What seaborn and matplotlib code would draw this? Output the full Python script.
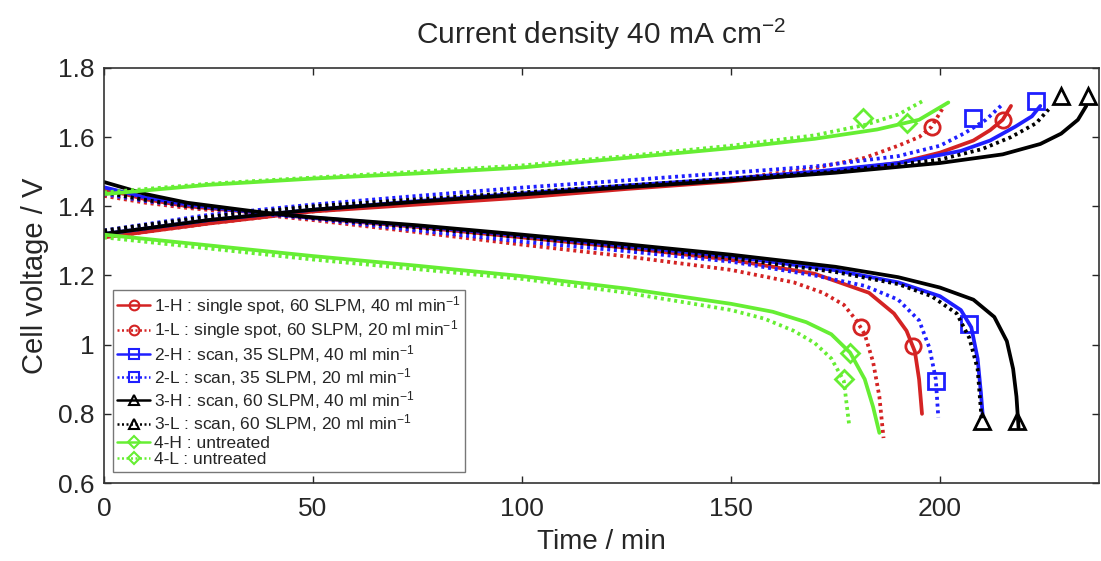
import numpy as np
import pandas as pd
import matplotlib
matplotlib.use("Agg")
import matplotlib.pyplot as plt
import seaborn as sns
from matplotlib.lines import Line2D

# ---- data (time in min, voltage in V) ----
series = ["1-H", "1-L", "2-H", "2-L", "3-H", "3-L", "4-H", "4-L"]
labels = [
    "1-H : single spot, 60 SLPM, 40 ml min$^{-1}$",
    "1-L : single spot, 60 SLPM, 20 ml min$^{-1}$",
    "2-H : scan, 35 SLPM, 40 ml min$^{-1}$",
    "2-L : scan, 35 SLPM, 20 ml min$^{-1}$",
    "3-H : scan, 60 SLPM, 40 ml min$^{-1}$",
    "3-L : scan, 60 SLPM, 20 ml min$^{-1}$",
    "4-H : untreated",
    "4-L : untreated",
]

# charge branch
charge_t = {
    "1-H": [0, 25, 50, 75, 100, 125, 150, 170, 190, 200, 208, 212, 215, 217],
    "1-L": [0, 25, 50, 75, 100, 125, 150, 170, 182, 190, 195, 198, 201],
    "2-H": [0, 25, 50, 75, 100, 125, 150, 170, 190, 205, 212, 218, 222, 224],
    "2-L": [0, 25, 50, 75, 100, 125, 150, 170, 190, 200, 206, 211, 215],
    "3-H": [0, 25, 50, 75, 100, 125, 150, 175, 200, 215, 224, 229, 233, 235],
    "3-L": [0, 25, 50, 75, 100, 125, 150, 175, 200, 210, 217, 223, 226],
    "4-H": [0, 25, 50, 75, 100, 125, 150, 170, 185, 195, 202],
    "4-L": [0, 25, 50, 75, 100, 125, 150, 170, 182, 190, 196],
}
charge_v = {
    "1-H": [1.31, 1.35, 1.385, 1.405, 1.425, 1.45, 1.472, 1.495, 1.525, 1.555, 1.59, 1.62, 1.65, 1.69],
    "1-L": [1.31, 1.35, 1.385, 1.41, 1.43, 1.455, 1.478, 1.51, 1.54, 1.575, 1.60, 1.63, 1.69],
    "2-H": [1.32, 1.36, 1.39, 1.415, 1.437, 1.46, 1.48, 1.50, 1.525, 1.56, 1.59, 1.63, 1.66, 1.69],
    "2-L": [1.33, 1.375, 1.405, 1.43, 1.454, 1.475, 1.497, 1.515, 1.545, 1.575, 1.612, 1.65, 1.695],
    "3-H": [1.32, 1.36, 1.39, 1.413, 1.434, 1.455, 1.475, 1.497, 1.525, 1.55, 1.58, 1.61, 1.65, 1.69],
    "3-L": [1.33, 1.37, 1.40, 1.42, 1.44, 1.46, 1.48, 1.50, 1.535, 1.565, 1.60, 1.64, 1.68],
    "4-H": [1.435, 1.462, 1.48, 1.495, 1.512, 1.54, 1.568, 1.595, 1.622, 1.65, 1.70],
    "4-L": [1.44, 1.465, 1.483, 1.50, 1.518, 1.545, 1.575, 1.605, 1.635, 1.665, 1.705],
}

# discharge branch
discharge_t = {
    "1-H": [0, 10, 20, 38, 50, 75, 100, 125, 150, 170, 183, 189, 192, 194, 195, 195.7],
    "1-L": [0, 10, 20, 38, 50, 75, 100, 125, 150, 165, 172, 177, 180, 182, 184, 185.5, 186.5],
    "2-H": [0, 10, 20, 38, 50, 75, 100, 125, 150, 175, 190, 200, 205, 207.5, 209, 209.8, 210.2],
    "2-L": [0, 10, 20, 38, 50, 75, 100, 125, 150, 170, 182, 190, 195, 197.5, 199, 199.6],
    "3-H": [0, 10, 20, 38, 50, 75, 100, 125, 150, 175, 190, 200, 208, 213, 216, 217.5, 218.3, 218.8],
    "3-L": [0, 10, 20, 38, 50, 75, 100, 125, 150, 175, 190, 198, 204, 207, 209, 210],
    "4-H": [0, 25, 50, 75, 100, 125, 150, 160, 168, 174, 178.5, 182, 184, 185.5],
    "4-L": [0, 25, 50, 75, 100, 125, 150, 158, 165, 170, 174, 177, 178.3],
}
discharge_v = {
    "1-H": [1.45, 1.42, 1.40, 1.38, 1.366, 1.34, 1.31, 1.28, 1.245, 1.205, 1.15, 1.09, 1.04, 0.98, 0.90, 0.80],
    "1-L": [1.43, 1.41, 1.395, 1.375, 1.36, 1.325, 1.289, 1.255, 1.216, 1.18, 1.15, 1.115, 1.07, 1.03, 0.95, 0.85, 0.73],
    "2-H": [1.455, 1.425, 1.405, 1.38, 1.367, 1.343, 1.315, 1.285, 1.255, 1.215, 1.18, 1.14, 1.10, 1.05, 0.96, 0.86, 0.80],
    "2-L": [1.435, 1.415, 1.40, 1.378, 1.364, 1.33, 1.298, 1.27, 1.24, 1.20, 1.17, 1.13, 1.07, 0.99, 0.90, 0.79],
    "3-H": [1.47, 1.435, 1.41, 1.382, 1.368, 1.345, 1.318, 1.29, 1.26, 1.225, 1.195, 1.165, 1.13, 1.08, 1.01, 0.93, 0.85, 0.76],
    "3-L": [1.44, 1.418, 1.40, 1.38, 1.366, 1.338, 1.31, 1.28, 1.25, 1.21, 1.175, 1.14, 1.09, 1.02, 0.93, 0.78],
    "4-H": [1.318, 1.287, 1.256, 1.228, 1.198, 1.162, 1.118, 1.095, 1.065, 1.03, 0.977, 0.90, 0.82, 0.745],
    "4-L": [1.31, 1.278, 1.246, 1.218, 1.19, 1.15, 1.10, 1.075, 1.04, 1.005, 0.96, 0.895, 0.765],
}

# single marker per branch (where the reference shows it)
marker_charge_t = [215, 198, 223, 208, 235.5, 229, 192, 181.5]
marker_charge_v = [1.65, 1.63, 1.705, 1.655, 1.72, 1.72, 1.64, 1.655]
marker_discharge_t = [193.5, 181, 207, 199, 218.5, 210, 178.5, 177]
marker_discharge_v = [0.997, 1.05, 1.06, 0.896, 0.78, 0.78, 0.977, 0.90]

colors = ["#d42323", "#d42323", "#1f1fff", "#1f1fff", "#000000", "#000000", "#66ee33", "#66ee33"]
markers = ["o", "o", "s", "s", "^", "^", "D", "D"]
dotted = (0, (0.8, 1.0))
styles = ["-", dotted, "-", dotted, "-", dotted, "-", dotted]

rows = []
for s in series:
    for t, v in zip(charge_t[s], charge_v[s]):
        rows.append((s, "charge", t, v))
    for t, v in zip(discharge_t[s], discharge_v[s]):
        rows.append((s, "discharge", t, v))
df = pd.DataFrame(rows, columns=["series", "branch", "time", "voltage"])

sns.set_style("ticks")
plt.rcParams["font.family"] = ["Liberation Sans", "DejaVu Sans"]
plt.rcParams["mathtext.default"] = "regular"

fig = plt.figure(figsize=(11.01, 5.61), dpi=100)
ax = fig.add_axes([0.0945, 0.139, 0.9035, 0.74])

for i, s in enumerate(series):
    for branch in ["charge", "discharge"]:
        sub = df[(df.series == s) & (df.branch == branch)]
        sns.lineplot(data=sub, x="time", y="voltage", ax=ax, color=colors[i],
                     linestyle=styles[i], linewidth=2.7, sort=False,
                     estimator=None, legend=False)
    mk = dict(marker=markers[i], markersize=11 if markers[i] != "D" else 9.5,
              markerfacecolor="none", markeredgecolor=colors[i],
              markeredgewidth=2, linestyle="none")
    ax.plot([marker_charge_t[i], marker_discharge_t[i]],
            [marker_charge_v[i], marker_discharge_v[i]], **mk)

ax.set_xlim(0, 238)
ax.set_ylim(0.6, 1.8)
ax.set_xticks([0, 50, 100, 150, 200])
ax.set_yticks([0.6, 0.8, 1.0, 1.2, 1.4, 1.6, 1.8])
ax.set_yticklabels(["0.6", "0.8", "1", "1.2", "1.4", "1.6", "1.8"])
ax.tick_params(direction="in", top=True, right=True, length=5, width=1,
               labelsize=19)
ax.tick_params(axis="x", pad=10)
ax.tick_params(axis="y", pad=7)
for sp in ax.spines.values():
    sp.set_linewidth(1.2)
    sp.set_color("#333333")
ax.set_xlabel("Time / min", fontsize=20, labelpad=6)
ax.set_ylabel("Cell voltage / V", fontsize=21, labelpad=6)
ax.set_title("Current density 40 mA cm$^{-2}$", fontsize=21.5, pad=17)

handles = []
for i in range(len(series)):
    handles.append(Line2D([], [], color=colors[i], linestyle=styles[i], linewidth=1.8,
                          marker=markers[i], markersize=7 if markers[i] != "D" else 6,
                          markerfacecolor="none", markeredgecolor=colors[i],
                          markeredgewidth=1.5))
leg = ax.legend(handles, labels, loc="lower left", bbox_to_anchor=(0.009, 0.027),
                borderaxespad=0, fontsize=12.5, handlelength=1.9, handletextpad=0.2,
                labelspacing=0.08, borderpad=0.25, frameon=True, fancybox=False)
leg.get_frame().set_edgecolor("#555555")
leg.get_frame().set_linewidth(1)

fig.savefig("out.png", dpi=100)
